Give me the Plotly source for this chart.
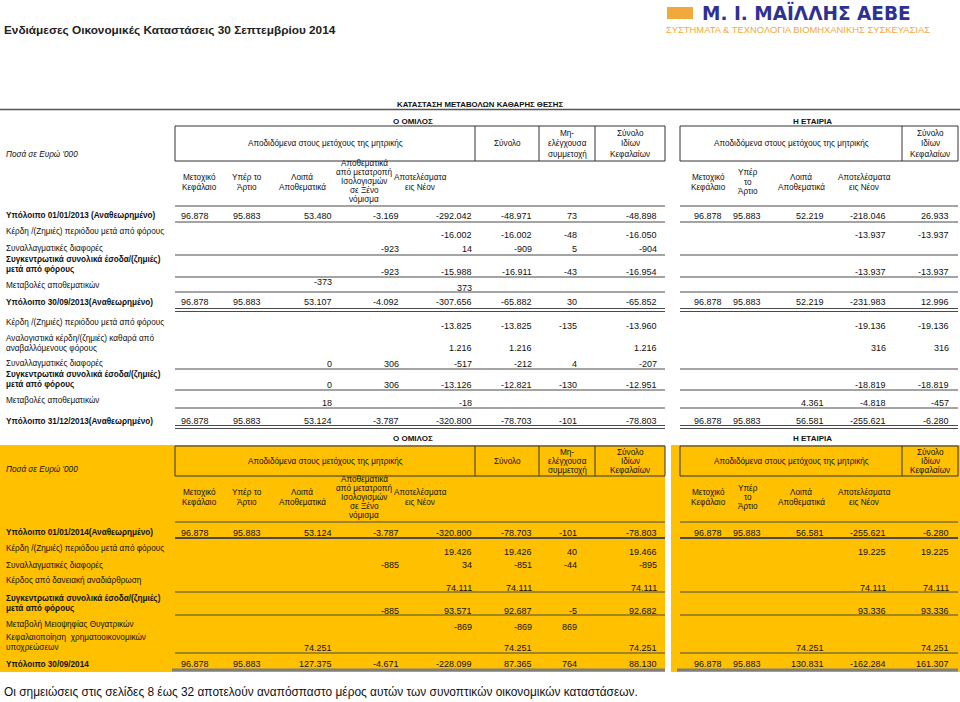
import plotly.graph_objects as go

FONT = "Arial, Liberation Sans, sans-serif"
INK = "#111111"
GOLD = "#FFC000"
RULE = "#4a4a4a"

TITLE = "Ενδιάμεσες Οικονομικές Καταστάσεις 30 Σεπτεμβρίου 2014"
LOGO_NAME = "Μ. Ι. ΜΑΪΛΛΗΣ ΑΕΒΕ"
LOGO_TAG = "ΣΥΣΤΗΜΑΤΑ & ΤΕΧΝΟΛΟΓΙΑ ΒΙΟΜΗΧΑΝΙΚΗΣ ΣΥΣΚΕΥΑΣΙΑΣ"
STATEMENT = "ΚΑΤΑΣΤΑΣΗ ΜΕΤΑΒΟΛΩΝ ΚΑΘΑΡΗΣ ΘΕΣΗΣ"
FOOTNOTE = ("Οι σημειώσεις στις σελίδες 8 έως 32 αποτελούν αναπόσπαστο μέρος "
            "αυτών των συνοπτικών οικονομικών καταστάσεων.")
UNITS = "Ποσά σε Ευρώ '000"
GROUP_NAME = "Ο ΟΜΙΛΟΣ"
COMPANY_NAME = "Η ΕΤΑΙΡΙΑ"
ATTRIBUTED = "Αποδιδόμενα στους μετόχους της μητρικής"

GROUP_TOP_HEADERS = ["Σύνολο", "Μη-\nελέγχουσα\nσυμμετοχή", "Σύνολο\nΙδίων\nΚεφαλαίων"]
GROUP_SUB_HEADERS = ["Μετοχικό\nΚεφάλαιο", "Υπέρ το\nΆρτιο", "Λοιπά\nΑποθεματικά",
                     "Αποθεματικά\nαπό μετατροπή\nΙσολογισμών\nσε Ξένο\nνόμισμα",
                     "Αποτελέσματα\nεις Νέον"]
COMPANY_TOP_HEADER = "Σύνολο\nΙδίων\nΚεφαλαίων"
COMPANY_SUB_HEADERS = ["Μετοχικό\nΚεφάλαιο", "Υπέρ\nτο\nΆρτιο", "Λοιπά\nΑποθεματικά",
                       "Αποτελέσματα\nεις Νέον"]

# 2013 movements (restated)
LABELS_2013 = [
    "Υπόλοιπο 01/01/2013 (Αναθεωρημένο)",
    "Κέρδη /(Ζημιές) περιόδου μετά από φόρους",
    "Συναλλαγματικές διαφορές",
    "Συγκεντρωτικά συνολικά έσοδα/(ζημιές)\nμετά από φόρους",
    "Μεταβολές αποθεματικών",
    "Υπόλοιπο 30/09/2013(Αναθεωρημένο)",
    "Κέρδη /(Ζημιές) περιόδου μετά από φόρους",
    "Αναλογιστικά κέρδη/(ζημιές) καθαρά από\nαναβαλλόμενους φόρους",
    "Συναλλαγματικές διαφορές",
    "Συγκεντρωτικά συνολικά έσοδα/(ζημιές)\nμετά από φόρους",
    "Μεταβολές αποθεματικών",
    "Υπόλοιπο 31/12/2013(Αναθεωρημένο)",
]
BOLD_2013 = [True, False, False, True, False, True, False, False, False, True, False, True]
GROUP_2013 = [
    ["96.878", "95.883", "53.480", "-3.169", "-292.042", "-48.971", "73", "-48.898"],
    ["", "", "", "", "-16.002", "-16.002", "-48", "-16.050"],
    ["", "", "", "-923", "14", "-909", "5", "-904"],
    ["", "", "", "-923", "-15.988", "-16.911", "-43", "-16.954"],
    ["", "", "-373", "", "373", "", "", ""],
    ["96.878", "95.883", "53.107", "-4.092", "-307.656", "-65.882", "30", "-65.852"],
    ["", "", "", "", "-13.825", "-13.825", "-135", "-13.960"],
    ["", "", "", "", "1.216", "1.216", "", "1.216"],
    ["", "", "0", "306", "-517", "-212", "4", "-207"],
    ["", "", "0", "306", "-13.126", "-12.821", "-130", "-12.951"],
    ["", "", "18", "", "-18", "", "", ""],
    ["96.878", "95.883", "53.124", "-3.787", "-320.800", "-78.703", "-101", "-78.803"],
]
COMPANY_2013 = [
    ["96.878", "95.883", "52.219", "-218.046", "26.933"],
    ["", "", "", "-13.937", "-13.937"],
    ["", "", "", "", ""],
    ["", "", "", "-13.937", "-13.937"],
    ["", "", "", "", ""],
    ["96.878", "95.883", "52.219", "-231.983", "12.996"],
    ["", "", "", "-19.136", "-19.136"],
    ["", "", "", "316", "316"],
    ["", "", "", "", ""],
    ["", "", "", "-18.819", "-18.819"],
    ["", "", "4.361", "-4.818", "-457"],
    ["96.878", "95.883", "56.581", "-255.621", "-6.280"],
]

# 2014 movements
LABELS_2014 = [
    "Υπόλοιπο 01/01/2014(Αναθεωρημένο)",
    "Κέρδη /(Ζημιές) περιόδου μετά από φόρους",
    "Συναλλαγματικές διαφορές",
    "Κέρδος από δανειακή αναδιάρθρωση",
    "Συγκεντρωτικά συνολικά έσοδα/(ζημιές)\nμετά από φόρους",
    "Μεταβολή Μειοψηφίας Θυγατρικών",
    "Κεφαλαιοποίηση  χρηματοοικονομικών\nυποχρεώσεων",
    "Υπόλοιπο 30/09/2014",
]
BOLD_2014 = [True, False, False, False, True, False, False, True]
GROUP_2014 = [
    ["96.878", "95.883", "53.124", "-3.787", "-320.800", "-78.703", "-101", "-78.803"],
    ["", "", "", "", "19.426", "19.426", "40", "19.466"],
    ["", "", "", "-885", "34", "-851", "-44", "-895"],
    ["", "", "", "", "74.111", "74.111", "", "74.111"],
    ["", "", "", "-885", "93.571", "92.687", "-5", "92.682"],
    ["", "", "", "", "-869", "-869", "869", ""],
    ["", "", "74.251", "", "", "74.251", "", "74.251"],
    ["96.878", "95.883", "127.375", "-4.671", "-228.099", "87.365", "764", "88.130"],
]
COMPANY_2014 = [
    ["96.878", "95.883", "56.581", "-255.621", "-6.280"],
    ["", "", "", "19.225", "19.225"],
    ["", "", "", "", ""],
    ["", "", "", "74.111", "74.111"],
    ["", "", "", "93.336", "93.336"],
    ["", "", "", "", ""],
    ["", "", "74.251", "", "74.251"],
    ["96.878", "95.883", "130.831", "-162.284", "161.307"],
]

# page geometry (pixels, y grows downwards)
GROUP_VALUE_X = [210, 262, 333, 400, 473, 533, 578, 658]
COMPANY_VALUE_X = [723, 762, 825, 887, 950]
GROUP_SUB_X = [199, 247, 302, 364, 420]
COMPANY_SUB_X = [708, 748, 801, 864]
GROUP_EDGES = [175, 475, 539, 595, 665]
COMPANY_EDGES = [680, 902, 958]

LAYOUT_2013 = dict(
    name_y=121, box=(126, 161), box_step=10.5, units_y=154,
    sub_mid=182, fx_mid=181.5, sub_step=10, fx_step=9.2, head_rule=206,
    label_y=[215, 231, 248, 264.5, 285, 302, 322.5, 343.5, 363, 379, 400, 421],
    value_y=[216, 235, 249, 272, 288, 302, 326, 348, 364, 385, 403, 421],
    value_shift={(4, 2): -6},
    rules=[222, 255, 277, 292, 369, 390, 408], doubles=[310, 427], thick=[],
)
LAYOUT_2014 = dict(
    name_y=438.5, box=(446, 476), box_step=9, units_y=469,
    sub_mid=497.5, fx_mid=497.5, sub_step=9.5, fx_step=8.8, head_rule=522,
    label_y=[532, 548, 565, 580, 603, 624.5, 642, 664],
    value_y=[533, 551.5, 565, 588, 610.5, 627, 648, 664],
    value_shift={},
    rules=[592, 615, 653], doubles=[], thick=[538],
)


def put(fig, x, y, s, size=8.2, anchor="center", bold=False, italic=False,
        color=INK, step=9.5, family=FONT):
    """
    Write a (possibly multi-line) text block centred vertically on y
    """
    lines = s.split("\n")
    y0 = y - (len(lines) - 1) * step / 2
    for i, line in enumerate(lines):
        if bold:
            line = "<b>" + line + "</b>"
        if italic:
            line = "<i>" + line + "</i>"
        fig.add_annotation(
            x=x, y=y0 + i * step, text=line, showarrow=False,
            xanchor=anchor, yanchor="middle", borderpad=0,
            font=dict(family=family, size=size, color=color),
        )


def hline(fig, x0, x1, y, color=RULE, width=1.2):
    fig.add_shape(type="line", x0=x0, x1=x1, y0=y, y1=y,
                  line=dict(color=color, width=width))


def draw_header(fig, g):
    """
    Column header block of one statement (group + company)
    """
    top, bottom = g["box"]
    mid = (top + bottom) / 2
    put(fig, 413, g["name_y"], GROUP_NAME, size=8, bold=True)
    put(fig, 812, g["name_y"], COMPANY_NAME, size=8, bold=True)
    put(fig, 5, g["units_y"], UNITS, anchor="left", italic=True)

    # boxes
    for edges in (GROUP_EDGES, COMPANY_EDGES):
        fig.add_shape(type="rect", x0=edges[0], x1=edges[-1], y0=top, y1=bottom,
                      line=dict(color="#333333", width=1))
        for x in edges[1:-1]:
            fig.add_shape(type="line", x0=x, x1=x, y0=top, y1=bottom,
                          line=dict(color="#333333", width=1))
    put(fig, (GROUP_EDGES[0] + GROUP_EDGES[1]) / 2, mid, ATTRIBUTED)
    for i, h in enumerate(GROUP_TOP_HEADERS):
        put(fig, (GROUP_EDGES[i + 1] + GROUP_EDGES[i + 2]) / 2, mid, h,
            step=g["box_step"])
    put(fig, (COMPANY_EDGES[0] + COMPANY_EDGES[1]) / 2, mid, ATTRIBUTED)
    put(fig, (COMPANY_EDGES[1] + COMPANY_EDGES[2]) / 2, mid, COMPANY_TOP_HEADER,
        step=g["box_step"])

    # sub headers
    for x, h in zip(GROUP_SUB_X, GROUP_SUB_HEADERS):
        if h.count("\n") > 2:
            put(fig, x, g["fx_mid"], h, step=g["fx_step"])
        else:
            put(fig, x, g["sub_mid"], h, step=g["sub_step"])
    for x, h in zip(COMPANY_SUB_X, COMPANY_SUB_HEADERS):
        step = g["fx_step"] if h.count("\n") > 1 else g["sub_step"]
        put(fig, x, g["sub_mid"], h, step=step)

    hline(fig, GROUP_EDGES[0], GROUP_EDGES[-1], g["head_rule"])
    hline(fig, COMPANY_EDGES[0], COMPANY_EDGES[-1], g["head_rule"])


def draw_body(fig, g, labels, bold, group_vals, company_vals):
    """
    Row labels, values and rules of one statement
    """
    for i, lab in enumerate(labels):
        put(fig, 5, g["label_y"][i], lab, anchor="left", bold=bold[i], step=10)
        for j, (x, v) in enumerate(zip(GROUP_VALUE_X, group_vals[i])):
            if v:
                y = g["value_y"][i] + g["value_shift"].get((i, j), 0)
                put(fig, x, y, v, size=9, anchor="right")
        for x, v in zip(COMPANY_VALUE_X, company_vals[i]):
            if v:
                put(fig, x, g["value_y"][i], v, size=9, anchor="right")

    for edges in (GROUP_EDGES, COMPANY_EDGES):
        for y in g["rules"]:
            hline(fig, edges[0], edges[-1], y)
        for y in g["doubles"]:
            hline(fig, edges[0], edges[-1], y - 1.5, width=1)
            hline(fig, edges[0], edges[-1], y + 1.5, width=1)
        for y in g["thick"]:
            hline(fig, edges[0], edges[-1], y, width=2)


fig = go.Figure()

# yellow background of the 2014 statement
fig.add_shape(type="rect", x0=0, x1=665, y0=445, y1=672, fillcolor=GOLD,
              line=dict(width=0), layer="below")
fig.add_shape(type="rect", x0=671, x1=960, y0=445, y1=672, fillcolor=GOLD,
              line=dict(width=0), layer="below")

# page header
put(fig, 3, 30, TITLE, size=11.8, anchor="left", bold=True, color="#222222")
fig.add_shape(type="rect", x0=667, x1=693, y0=7, y1=19, fillcolor="#F2A93B",
              line=dict(width=0))
put(fig, 701, 12.5, LOGO_NAME, size=18.5, anchor="left", bold=True,
    color="#2E3192", family="DejaVu Sans")
put(fig, 665, 29, LOGO_TAG, size=9.4, anchor="left", color="#F2A93B")

put(fig, 480, 104, STATEMENT, size=7.8, bold=True)
hline(fig, 0, 960, 109.5, color="#555555", width=1.5)

draw_header(fig, LAYOUT_2013)
draw_body(fig, LAYOUT_2013, LABELS_2013, BOLD_2013, GROUP_2013, COMPANY_2013)

draw_header(fig, LAYOUT_2014)
draw_body(fig, LAYOUT_2014, LABELS_2014, BOLD_2014, GROUP_2014, COMPANY_2014)
for edges in (GROUP_EDGES, COMPANY_EDGES):
    hline(fig, edges[0] - 3, edges[-1], 670, color="#7f7f7f", width=3)

put(fig, 3, 692, FOOTNOTE, size=11.9, anchor="left", color="#111111")

fig.update_xaxes(range=[0, 960], visible=False, fixedrange=True)
fig.update_yaxes(range=[702, 0], visible=False, fixedrange=True)
fig.update_layout(
    width=960, height=702,
    margin=dict(l=0, r=0, t=0, b=0),
    paper_bgcolor="white", plot_bgcolor="white",
    showlegend=False,
)

# drop the browser's default body margin so the page sits at the window corner
fig.write_html("out.html", config={"displayModeBar": False},
               post_script="document.body.style.margin='0';")
